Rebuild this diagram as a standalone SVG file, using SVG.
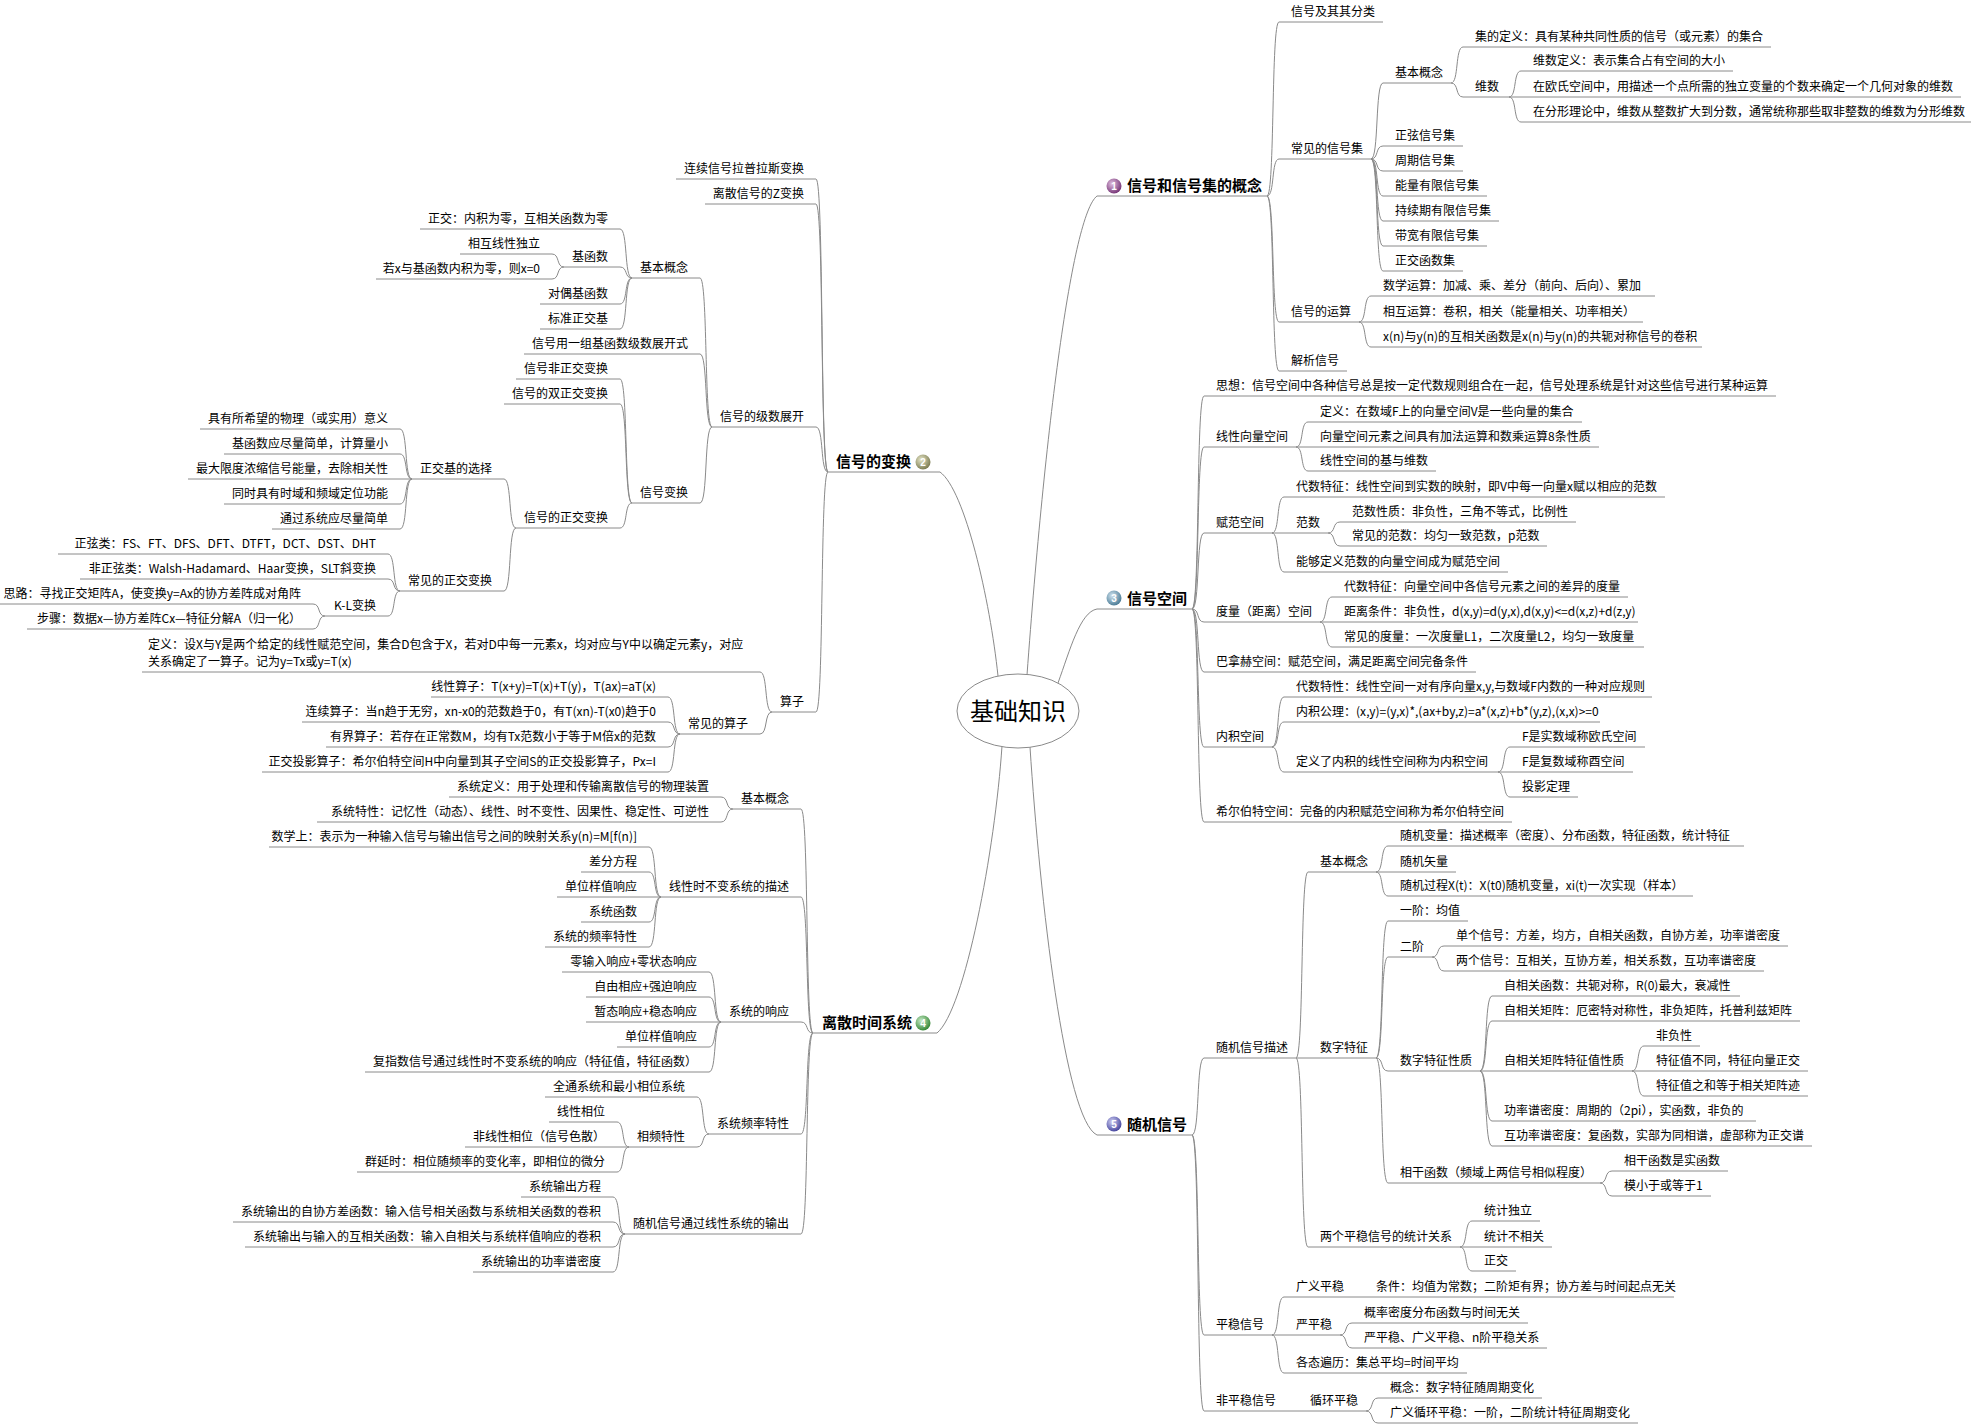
<svg xmlns="http://www.w3.org/2000/svg" width="1971" height="1424" viewBox="0 0 1971 1424">
<style>
.t{font-family:"Noto Sans CJK SC","Noto Sans",sans-serif;font-size:12px;fill:#000}
.e{text-anchor:end}
.b{font-size:15px;font-weight:bold}
.u{stroke:#8a8a8a;stroke-width:1;fill:none}
.n{font-family:"Liberation Sans",sans-serif;font-size:10px;font-weight:bold;fill:#fff;text-anchor:middle}
</style>
<defs>
<radialGradient id="g1" cx="38%" cy="35%" r="65%"><stop offset="0" stop-color="#e0bfe0"/><stop offset="1" stop-color="#7a3a7a"/></radialGradient>
<radialGradient id="g2" cx="38%" cy="35%" r="65%"><stop offset="0" stop-color="#e6e6c8"/><stop offset="1" stop-color="#7f7f55"/></radialGradient>
<radialGradient id="g3" cx="38%" cy="35%" r="65%"><stop offset="0" stop-color="#cfe2ee"/><stop offset="1" stop-color="#4f7f99"/></radialGradient>
<radialGradient id="g4" cx="38%" cy="35%" r="65%"><stop offset="0" stop-color="#c8ecc8"/><stop offset="1" stop-color="#3a8a3a"/></radialGradient>
<radialGradient id="g5" cx="38%" cy="35%" r="65%"><stop offset="0" stop-color="#d0d0f4"/><stop offset="1" stop-color="#4a4aa0"/></radialGradient>
</defs>
<rect width="1971" height="1424" fill="#fff"/>
<g id="connectors" class="u">
<path d="M1027 675C1045 430 1072 215 1097 196"/>
<path d="M1058 683C1070 650 1080 612 1097 609"/>
<path d="M998 676C990 600 965 490 940 472"/>
<path d="M1002 746C995 850 965 1010 937 1033"/>
<path d="M1030 747C1040 900 1065 1120 1097 1135"/>
<path d="M1267 196C1275 196 1271 22 1279 22"/>
<path d="M1267 196C1275 196 1271 159 1279 159"/>
<path d="M1267 196C1275 196 1271 322 1279 322"/>
<path d="M1267 196C1275 196 1271 371 1279 371"/>
<path d="M1371 159C1379 159 1375 83 1383 83"/>
<path d="M1371 159C1379 159 1375 146 1383 146"/>
<path d="M1371 159C1379 159 1375 171 1383 171"/>
<path d="M1371 159C1379 159 1375 196 1383 196"/>
<path d="M1371 159C1379 159 1375 221 1383 221"/>
<path d="M1371 159C1379 159 1375 246 1383 246"/>
<path d="M1371 159C1379 159 1375 271 1383 271"/>
<path d="M1451 83C1459 83 1455 47 1463 47"/>
<path d="M1451 83C1459 83 1455 97 1463 97"/>
<path d="M1509 97C1517 97 1513 71 1521 71"/>
<path d="M1509 97H1521"/>
<path d="M1509 97C1517 97 1513 122 1521 122"/>
<path d="M1359 322C1367 322 1363 296 1371 296"/>
<path d="M1359 322H1371"/>
<path d="M1359 322C1367 322 1363 347 1371 347"/>
<path d="M1192 609C1200 609 1196 396 1204 396"/>
<path d="M1192 609C1200 609 1196 447 1204 447"/>
<path d="M1192 609C1200 609 1196 533 1204 533"/>
<path d="M1192 609C1200 609 1196 622 1204 622"/>
<path d="M1192 609C1200 609 1196 672 1204 672"/>
<path d="M1192 609C1200 609 1196 747 1204 747"/>
<path d="M1192 609C1200 609 1196 822 1204 822"/>
<path d="M1296 447C1304 447 1300 422 1308 422"/>
<path d="M1296 447H1308"/>
<path d="M1296 447C1304 447 1300 471 1308 471"/>
<path d="M1272 533C1280 533 1276 497 1284 497"/>
<path d="M1272 533H1284"/>
<path d="M1272 533C1280 533 1276 572 1284 572"/>
<path d="M1328 533C1336 533 1332 522 1340 522"/>
<path d="M1328 533C1336 533 1332 546 1340 546"/>
<path d="M1320 622C1328 622 1324 597 1332 597"/>
<path d="M1320 622H1332"/>
<path d="M1320 622C1328 622 1324 647 1332 647"/>
<path d="M1272 747C1280 747 1276 697 1284 697"/>
<path d="M1272 747C1280 747 1276 722 1284 722"/>
<path d="M1272 747C1280 747 1276 772 1284 772"/>
<path d="M1498 772C1506 772 1502 747 1510 747"/>
<path d="M1498 772H1510"/>
<path d="M1498 772C1506 772 1502 797 1510 797"/>
<path d="M1192 1135C1200 1135 1196 1058 1204 1058"/>
<path d="M1192 1135C1200 1135 1196 1335 1204 1335"/>
<path d="M1192 1135C1200 1135 1196 1411 1204 1411"/>
<path d="M1296 1058C1304 1058 1300 872 1308 872"/>
<path d="M1296 1058H1308"/>
<path d="M1296 1058C1304 1058 1300 1247 1308 1247"/>
<path d="M1376 872C1384 872 1380 846 1388 846"/>
<path d="M1376 872H1388"/>
<path d="M1376 872C1384 872 1380 896 1388 896"/>
<path d="M1376 1058C1384 1058 1380 921 1388 921"/>
<path d="M1376 1058C1384 1058 1380 957 1388 957"/>
<path d="M1376 1058C1384 1058 1380 1071 1388 1071"/>
<path d="M1376 1058C1384 1058 1380 1183 1388 1183"/>
<path d="M1432 957C1440 957 1436 946 1444 946"/>
<path d="M1432 957C1440 957 1436 971 1444 971"/>
<path d="M1480 1071C1488 1071 1484 996 1492 996"/>
<path d="M1480 1071C1488 1071 1484 1021 1492 1021"/>
<path d="M1480 1071H1492"/>
<path d="M1480 1071C1488 1071 1484 1121 1492 1121"/>
<path d="M1480 1071C1488 1071 1484 1146 1492 1146"/>
<path d="M1632 1071C1640 1071 1636 1046 1644 1046"/>
<path d="M1632 1071H1644"/>
<path d="M1632 1071C1640 1071 1636 1096 1644 1096"/>
<path d="M1600 1183C1608 1183 1604 1171 1612 1171"/>
<path d="M1600 1183C1608 1183 1604 1196 1612 1196"/>
<path d="M1460 1247C1468 1247 1464 1221 1472 1221"/>
<path d="M1460 1247H1472"/>
<path d="M1460 1247C1468 1247 1464 1271 1472 1271"/>
<path d="M1272 1335C1280 1335 1276 1297 1284 1297"/>
<path d="M1272 1335H1284"/>
<path d="M1272 1335C1280 1335 1276 1373 1284 1373"/>
<path d="M1352 1297H1364"/>
<path d="M1340 1335C1348 1335 1344 1323 1352 1323"/>
<path d="M1340 1335C1348 1335 1344 1348 1352 1348"/>
<path d="M1286 1411H1298"/>
<path d="M1366 1411C1374 1411 1370 1398 1378 1398"/>
<path d="M1366 1411C1374 1411 1370 1423 1378 1423"/>
<path d="M828 472C820 472 824 179 816 179"/>
<path d="M828 472C820 472 824 204 816 204"/>
<path d="M828 472C820 472 824 427 816 427"/>
<path d="M828 472C820 472 824 712 816 712"/>
<path d="M712 427C704 427 708 278 700 278"/>
<path d="M712 427C704 427 708 354 700 354"/>
<path d="M712 427C704 427 708 503 700 503"/>
<path d="M632 278C624 278 628 229 620 229"/>
<path d="M632 278C624 278 628 267 620 267"/>
<path d="M632 278C624 278 628 304 620 304"/>
<path d="M632 278C624 278 628 329 620 329"/>
<path d="M564 267C556 267 560 254 552 254"/>
<path d="M564 267C556 267 560 279 552 279"/>
<path d="M632 503C624 503 628 379 620 379"/>
<path d="M632 503C624 503 628 404 620 404"/>
<path d="M632 503C624 503 628 528 620 528"/>
<path d="M516 528C508 528 512 479 504 479"/>
<path d="M516 528C508 528 512 591 504 591"/>
<path d="M412 479C404 479 408 429 400 429"/>
<path d="M412 479C404 479 408 454 400 454"/>
<path d="M412 479H400"/>
<path d="M412 479C404 479 408 504 400 504"/>
<path d="M412 479C404 479 408 529 400 529"/>
<path d="M400 591C392 591 396 554 388 554"/>
<path d="M400 591C392 591 396 579 388 579"/>
<path d="M400 591C392 591 396 616 388 616"/>
<path d="M325 616C317 616 321 604 313 604"/>
<path d="M325 616C317 616 321 629 313 629"/>
<path d="M772 712C764 712 768 672 760 672"/>
<path d="M772 712C764 712 768 734 760 734"/>
<path d="M680 734C672 734 676 697 668 697"/>
<path d="M680 734C672 734 676 722 668 722"/>
<path d="M680 734C672 734 676 747 668 747"/>
<path d="M680 734C672 734 676 772 668 772"/>
<path d="M813 1033C805 1033 809 809 801 809"/>
<path d="M813 1033C805 1033 809 897 801 897"/>
<path d="M813 1033C805 1033 809 1022 801 1022"/>
<path d="M813 1033C805 1033 809 1134 801 1134"/>
<path d="M813 1033C805 1033 809 1234 801 1234"/>
<path d="M733 809C725 809 729 797 721 797"/>
<path d="M733 809C725 809 729 822 721 822"/>
<path d="M661 897C653 897 657 847 649 847"/>
<path d="M661 897C653 897 657 872 649 872"/>
<path d="M661 897H649"/>
<path d="M661 897C653 897 657 922 649 922"/>
<path d="M661 897C653 897 657 947 649 947"/>
<path d="M721 1022C713 1022 717 972 709 972"/>
<path d="M721 1022C713 1022 717 997 709 997"/>
<path d="M721 1022H709"/>
<path d="M721 1022C713 1022 717 1047 709 1047"/>
<path d="M721 1022C713 1022 717 1072 709 1072"/>
<path d="M709 1134C701 1134 705 1097 697 1097"/>
<path d="M709 1134C701 1134 705 1147 697 1147"/>
<path d="M629 1147C621 1147 625 1122 617 1122"/>
<path d="M629 1147H617"/>
<path d="M629 1147C621 1147 625 1172 617 1172"/>
<path d="M625 1234C617 1234 621 1197 613 1197"/>
<path d="M625 1234C617 1234 621 1222 613 1222"/>
<path d="M625 1234C617 1234 621 1247 613 1247"/>
<path d="M625 1234C617 1234 621 1272 613 1272"/>
</g>
<g id="root"><ellipse cx="1018" cy="711" rx="61" ry="37" fill="#fff" stroke="#8a8a8a"/><text class="t" x="1018" y="720" style="font-size:24px;text-anchor:middle">基础知识</text></g>
<g id="b1"><path class="u" d="M1097 196H1267"/><circle cx="1114" cy="186" r="7.5" fill="url(#g1)"/><text class="n" x="1114" y="189.5">1</text><text class="t b" x="1127" y="191">信号和信号集的概念</text></g>
<g id="b2"><path class="u" d="M828 472H940"/><text class="t b" x="836" y="467">信号的变换</text><circle cx="923" cy="462" r="7.5" fill="url(#g2)"/><text class="n" x="923" y="465.5">2</text></g>
<g id="b3"><path class="u" d="M1097 609H1192"/><circle cx="1114" cy="598" r="7.5" fill="url(#g3)"/><text class="n" x="1114" y="601.5">3</text><text class="t b" x="1127" y="604">信号空间</text></g>
<g id="b4"><path class="u" d="M813 1033H937"/><text class="t b" x="822" y="1028">离散时间系统</text><circle cx="923" cy="1023" r="7.5" fill="url(#g4)"/><text class="n" x="923" y="1026.5">4</text></g>
<g id="b5"><path class="u" d="M1097 1135H1192"/><circle cx="1114" cy="1124" r="7.5" fill="url(#g5)"/><text class="n" x="1114" y="1127.5">5</text><text class="t b" x="1127" y="1130">随机信号</text></g>
<g id="r1a"><path class="u" d="M1279 22H1383"/><text class="t" x="1291" y="16">信号及其其分类</text></g>
<g id="r1b"><path class="u" d="M1279 159H1371"/><text class="t" x="1291" y="153">常见的信号集</text></g>
<g id="r1c"><path class="u" d="M1279 322H1359"/><text class="t" x="1291" y="316">信号的运算</text></g>
<g id="r1d"><path class="u" d="M1279 371H1347"/><text class="t" x="1291" y="365">解析信号</text></g>
<g id="r1b1"><path class="u" d="M1383 83H1451"/><text class="t" x="1395" y="77">基本概念</text></g>
<g id="r1b2"><path class="u" d="M1383 146H1463"/><text class="t" x="1395" y="140">正弦信号集</text></g>
<g id="r1b3"><path class="u" d="M1383 171H1463"/><text class="t" x="1395" y="165">周期信号集</text></g>
<g id="r1b4"><path class="u" d="M1383 196H1487"/><text class="t" x="1395" y="190">能量有限信号集</text></g>
<g id="r1b5"><path class="u" d="M1383 221H1499"/><text class="t" x="1395" y="215">持续期有限信号集</text></g>
<g id="r1b6"><path class="u" d="M1383 246H1487"/><text class="t" x="1395" y="240">带宽有限信号集</text></g>
<g id="r1b7"><path class="u" d="M1383 271H1463"/><text class="t" x="1395" y="265">正交函数集</text></g>
<g id="r1b1a"><path class="u" d="M1463 47H1771"/><text class="t" x="1475" y="41">集的定义：具有某种共同性质的信号（或元素）的集合</text></g>
<g id="r1b1b"><path class="u" d="M1463 97H1509"/><text class="t" x="1475" y="91">维数</text></g>
<g id="r1b1b1"><path class="u" d="M1521 71H1733"/><text class="t" x="1533" y="65">维数定义：表示集合占有空间的大小</text></g>
<g id="r1b1b2"><path class="u" d="M1521 97H1961"/><text class="t" x="1533" y="91">在欧氏空间中，用描述一个点所需的独立变量的个数来确定一个几何对象的维数</text></g>
<g id="r1b1b3"><path class="u" d="M1521 122H1971"/><text class="t" x="1533" y="116">在分形理论中，维数从整数扩大到分数，通常统称那些取非整数的维数为分形维数</text></g>
<g id="r1c1"><path class="u" d="M1371 296H1655"/><text class="t" x="1383" y="290">数学运算：加减、乘、差分（前向、后向）、累加</text></g>
<g id="r1c2"><path class="u" d="M1371 322H1643"/><text class="t" x="1383" y="316">相互运算：卷积，相关（能量相关、功率相关）</text></g>
<g id="r1c3"><path class="u" d="M1371 347H1702"/><text class="t" x="1383" y="341">x(n)与y(n)的互相关函数是x(n)与y(n)的共轭对称信号的卷积</text></g>
<g id="r3a"><path class="u" d="M1204 396H1776"/><text class="t" x="1216" y="390">思想：信号空间中各种信号总是按一定代数规则组合在一起，信号处理系统是针对这些信号进行某种运算</text></g>
<g id="r3b"><path class="u" d="M1204 447H1296"/><text class="t" x="1216" y="441">线性向量空间</text></g>
<g id="r3c"><path class="u" d="M1204 533H1272"/><text class="t" x="1216" y="527">赋范空间</text></g>
<g id="r3d"><path class="u" d="M1204 622H1320"/><text class="t" x="1216" y="616">度量（距离）空间</text></g>
<g id="r3e"><path class="u" d="M1204 672H1476"/><text class="t" x="1216" y="666">巴拿赫空间：赋范空间，满足距离空间完备条件</text></g>
<g id="r3f"><path class="u" d="M1204 747H1272"/><text class="t" x="1216" y="741">内积空间</text></g>
<g id="r3g"><path class="u" d="M1204 822H1512"/><text class="t" x="1216" y="816">希尔伯特空间：完备的内积赋范空间称为希尔伯特空间</text></g>
<g id="r3b1"><path class="u" d="M1308 422H1582"/><text class="t" x="1320" y="416">定义：在数域F上的向量空间V是一些向量的集合</text></g>
<g id="r3b2"><path class="u" d="M1308 447H1599"/><text class="t" x="1320" y="441">向量空间元素之间具有加法运算和数乘运算8条性质</text></g>
<g id="r3b3"><path class="u" d="M1308 471H1436"/><text class="t" x="1320" y="465">线性空间的基与维数</text></g>
<g id="r3c1"><path class="u" d="M1284 497H1665"/><text class="t" x="1296" y="491">代数特征：线性空间到实数的映射，即V中每一向量x赋以相应的范数</text></g>
<g id="r3c2"><path class="u" d="M1284 533H1328"/><text class="t" x="1296" y="527">范数</text></g>
<g id="r3c3"><path class="u" d="M1284 572H1508"/><text class="t" x="1296" y="566">能够定义范数的向量空间成为赋范空间</text></g>
<g id="r3c2a"><path class="u" d="M1340 522H1576"/><text class="t" x="1352" y="516">范数性质：非负性，三角不等式，比例性</text></g>
<g id="r3c2b"><path class="u" d="M1340 546H1547"/><text class="t" x="1352" y="540">常见的范数：均匀一致范数，p范数</text></g>
<g id="r3d1"><path class="u" d="M1332 597H1628"/><text class="t" x="1344" y="591">代数特征：向量空间中各信号元素之间的差异的度量</text></g>
<g id="r3d2"><path class="u" d="M1332 622H1638"/><text class="t" x="1344" y="616">距离条件：非负性，d(x,y)=d(y,x),d(x,y)&lt;=d(x,z)+d(z,y)</text></g>
<g id="r3d3"><path class="u" d="M1332 647H1644"/><text class="t" x="1344" y="641">常见的度量：一次度量L1，二次度量L2，均匀一致度量</text></g>
<g id="r3f1"><path class="u" d="M1284 697H1652"/><text class="t" x="1296" y="691">代数特性：线性空间一对有序向量x,y,与数域F内数的一种对应规则</text></g>
<g id="r3f2"><path class="u" d="M1284 722H1600"/><text class="t" x="1296" y="716">内积公理：(x,y)=(y,x)*,(ax+by,z)=a*(x,z)+b*(y,z),(x,x)&gt;=0</text></g>
<g id="r3f3"><path class="u" d="M1284 772H1498"/><text class="t" x="1296" y="766">定义了内积的线性空间称为内积空间</text></g>
<g id="r3f3a"><path class="u" d="M1510 747H1645"/><text class="t" x="1522" y="741">F是实数域称欧氏空间</text></g>
<g id="r3f3b"><path class="u" d="M1510 772H1633"/><text class="t" x="1522" y="766">F是复数域称酉空间</text></g>
<g id="r3f3c"><path class="u" d="M1510 797H1578"/><text class="t" x="1522" y="791">投影定理</text></g>
<g id="r5a"><path class="u" d="M1204 1058H1296"/><text class="t" x="1216" y="1052">随机信号描述</text></g>
<g id="r5b"><path class="u" d="M1204 1335H1272"/><text class="t" x="1216" y="1329">平稳信号</text></g>
<g id="r5c"><path class="u" d="M1204 1411H1286"/><text class="t" x="1216" y="1405">非平稳信号</text></g>
<g id="r5a1"><path class="u" d="M1308 872H1376"/><text class="t" x="1320" y="866">基本概念</text></g>
<g id="r5a2"><path class="u" d="M1308 1058H1376"/><text class="t" x="1320" y="1052">数字特征</text></g>
<g id="r5a3"><path class="u" d="M1308 1247H1460"/><text class="t" x="1320" y="1241">两个平稳信号的统计关系</text></g>
<g id="r5a1a"><path class="u" d="M1388 846H1744"/><text class="t" x="1400" y="840">随机变量：描述概率（密度）、分布函数，特征函数，统计特征</text></g>
<g id="r5a1b"><path class="u" d="M1388 872H1456"/><text class="t" x="1400" y="866">随机矢量</text></g>
<g id="r5a1c"><path class="u" d="M1388 896H1693"/><text class="t" x="1400" y="890">随机过程X(t)：X(t0)随机变量，xi(t)一次实现（样本）</text></g>
<g id="r5a2a"><path class="u" d="M1388 921H1468"/><text class="t" x="1400" y="915">一阶：均值</text></g>
<g id="r5a2b"><path class="u" d="M1388 957H1432"/><text class="t" x="1400" y="951">二阶</text></g>
<g id="r5a2c"><path class="u" d="M1388 1071H1480"/><text class="t" x="1400" y="1065">数字特征性质</text></g>
<g id="r5a2d"><path class="u" d="M1388 1183H1600"/><text class="t" x="1400" y="1177">相干函数（频域上两信号相似程度）</text></g>
<g id="r5a2b1"><path class="u" d="M1444 946H1788"/><text class="t" x="1456" y="940">单个信号：方差，均方，自相关函数，自协方差，功率谱密度</text></g>
<g id="r5a2b2"><path class="u" d="M1444 971H1764"/><text class="t" x="1456" y="965">两个信号：互相关，互协方差，相关系数，互功率谱密度</text></g>
<g id="r5a2c1"><path class="u" d="M1492 996H1740"/><text class="t" x="1504" y="990">自相关函数：共轭对称，R(0)最大，衰减性</text></g>
<g id="r5a2c2"><path class="u" d="M1492 1021H1800"/><text class="t" x="1504" y="1015">自相关矩阵：厄密特对称性，非负矩阵，托普利兹矩阵</text></g>
<g id="r5a2c3"><path class="u" d="M1492 1071H1632"/><text class="t" x="1504" y="1065">自相关矩阵特征值性质</text></g>
<g id="r5a2c4"><path class="u" d="M1492 1121H1756"/><text class="t" x="1504" y="1115">功率谱密度：周期的（2pi），实函数，非负的</text></g>
<g id="r5a2c5"><path class="u" d="M1492 1146H1812"/><text class="t" x="1504" y="1140">互功率谱密度：复函数，实部为同相谱，虚部称为正交谱</text></g>
<g id="r5a2c3a"><path class="u" d="M1644 1046H1700"/><text class="t" x="1656" y="1040">非负性</text></g>
<g id="r5a2c3b"><path class="u" d="M1644 1071H1808"/><text class="t" x="1656" y="1065">特征值不同，特征向量正交</text></g>
<g id="r5a2c3c"><path class="u" d="M1644 1096H1808"/><text class="t" x="1656" y="1090">特征值之和等于相关矩阵迹</text></g>
<g id="r5a2d1"><path class="u" d="M1612 1171H1728"/><text class="t" x="1624" y="1165">相干函数是实函数</text></g>
<g id="r5a2d2"><path class="u" d="M1612 1196H1711"/><text class="t" x="1624" y="1190">模小于或等于1</text></g>
<g id="r5a3a"><path class="u" d="M1472 1221H1540"/><text class="t" x="1484" y="1215">统计独立</text></g>
<g id="r5a3b"><path class="u" d="M1472 1247H1552"/><text class="t" x="1484" y="1241">统计不相关</text></g>
<g id="r5a3c"><path class="u" d="M1472 1271H1516"/><text class="t" x="1484" y="1265">正交</text></g>
<g id="r5b1"><path class="u" d="M1284 1297H1352"/><text class="t" x="1296" y="1291">广义平稳</text></g>
<g id="r5b2"><path class="u" d="M1284 1335H1340"/><text class="t" x="1296" y="1329">严平稳</text></g>
<g id="r5b3"><path class="u" d="M1284 1373H1467"/><text class="t" x="1296" y="1367">各态遍历：集总平均=时间平均</text></g>
<g id="r5b1a"><path class="u" d="M1364 1297H1674"/><text class="t" x="1376" y="1291">条件：均值为常数；二阶矩有界；协方差与时间起点无关</text></g>
<g id="r5b2a"><path class="u" d="M1352 1323H1528"/><text class="t" x="1364" y="1317">概率密度分布函数与时间无关</text></g>
<g id="r5b2b"><path class="u" d="M1352 1348H1547"/><text class="t" x="1364" y="1342">严平稳、广义平稳、n阶平稳关系</text></g>
<g id="r5c1"><path class="u" d="M1298 1411H1366"/><text class="t" x="1310" y="1405">循环平稳</text></g>
<g id="r5c1a"><path class="u" d="M1378 1398H1542"/><text class="t" x="1390" y="1392">概念：数字特征随周期变化</text></g>
<g id="r5c1b"><path class="u" d="M1378 1423H1638"/><text class="t" x="1390" y="1417">广义循环平稳：一阶，二阶统计特征周期变化</text></g>
<g id="l2a"><path class="u" d="M676 179H816"/><text class="t e" x="804" y="173">连续信号拉普拉斯变换</text></g>
<g id="l2b"><path class="u" d="M705 204H816"/><text class="t e" x="804" y="198">离散信号的Z变换</text></g>
<g id="l2c"><path class="u" d="M712 427H816"/><text class="t e" x="804" y="421">信号的级数展开</text></g>
<g id="l2d"><path class="u" d="M772 712H816"/><text class="t e" x="804" y="706">算子</text></g>
<g id="l2c1"><path class="u" d="M632 278H700"/><text class="t e" x="688" y="272">基本概念</text></g>
<g id="l2c2"><path class="u" d="M524 354H700"/><text class="t e" x="688" y="348">信号用一组基函数级数展开式</text></g>
<g id="l2c3"><path class="u" d="M632 503H700"/><text class="t e" x="688" y="497">信号变换</text></g>
<g id="l2c1a"><path class="u" d="M420 229H620"/><text class="t e" x="608" y="223">正交：内积为零，互相关函数为零</text></g>
<g id="l2c1b"><path class="u" d="M564 267H620"/><text class="t e" x="608" y="261">基函数</text></g>
<g id="l2c1c"><path class="u" d="M540 304H620"/><text class="t e" x="608" y="298">对偶基函数</text></g>
<g id="l2c1d"><path class="u" d="M540 329H620"/><text class="t e" x="608" y="323">标准正交基</text></g>
<g id="l2c1b1"><path class="u" d="M460 254H552"/><text class="t e" x="540" y="248">相互线性独立</text></g>
<g id="l2c1b2"><path class="u" d="M376 279H552"/><text class="t e" x="540" y="273">若x与基函数内积为零，则x=0</text></g>
<g id="l2c3a"><path class="u" d="M516 379H620"/><text class="t e" x="608" y="373">信号非正交变换</text></g>
<g id="l2c3b"><path class="u" d="M504 404H620"/><text class="t e" x="608" y="398">信号的双正交变换</text></g>
<g id="l2c3c"><path class="u" d="M516 528H620"/><text class="t e" x="608" y="522">信号的正交变换</text></g>
<g id="l2c3c1"><path class="u" d="M412 479H504"/><text class="t e" x="492" y="473">正交基的选择</text></g>
<g id="l2c3c2"><path class="u" d="M400 591H504"/><text class="t e" x="492" y="585">常见的正交变换</text></g>
<g id="l2c3c1a"><path class="u" d="M200 429H400"/><text class="t e" x="388" y="423">具有所希望的物理（或实用）意义</text></g>
<g id="l2c3c1b"><path class="u" d="M224 454H400"/><text class="t e" x="388" y="448">基函数应尽量简单，计算量小</text></g>
<g id="l2c3c1c"><path class="u" d="M188 479H400"/><text class="t e" x="388" y="473">最大限度浓缩信号能量，去除相关性</text></g>
<g id="l2c3c1d"><path class="u" d="M224 504H400"/><text class="t e" x="388" y="498">同时具有时域和频域定位功能</text></g>
<g id="l2c3c1e"><path class="u" d="M272 529H400"/><text class="t e" x="388" y="523">通过系统应尽量简单</text></g>
<g id="l2c3c2a"><path class="u" d="M58 554H388"/><text class="t e" x="376" y="548">正弦类：FS、FT、DFS、DFT、DTFT，DCT、DST、DHT</text></g>
<g id="l2c3c2b"><path class="u" d="M80 579H388"/><text class="t e" x="376" y="573">非正弦类：Walsh-Hadamard、Haar变换，SLT斜变换</text></g>
<g id="l2c3c2c"><path class="u" d="M325 616H388"/><text class="t e" x="376" y="610">K-L变换</text></g>
<g id="l2c3c2c1"><path class="u" d="M0 604H313"/><text class="t e" x="301" y="598">思路：寻找正交矩阵A，使变换y=Ax的协方差阵成对角阵</text></g>
<g id="l2c3c2c2"><path class="u" d="M27 629H313"/><text class="t e" x="301" y="623">步骤：数据x—协方差阵Cx—特征分解A（归一化）</text></g>
<g id="l2d1"><path class="u" d="M142 672H760"/><text class="t" x="148" y="649">定义：设X与Y是两个给定的线性赋范空间，集合D包含于X，若对D中每一元素x，均对应与Y中以确定元素y，对应</text><text class="t" x="148" y="666">关系确定了一算子。记为y=Tx或y=T(x)</text></g>
<g id="l2d2"><path class="u" d="M680 734H760"/><text class="t e" x="748" y="728">常见的算子</text></g>
<g id="l2d2a"><path class="u" d="M431 697H668"/><text class="t e" x="656" y="691">线性算子：T(x+y)=T(x)+T(y)，T(ax)=aT(x)</text></g>
<g id="l2d2b"><path class="u" d="M302 722H668"/><text class="t e" x="656" y="716">连续算子：当n趋于无穷，xn-x0的范数趋于0，有T(xn)-T(x0)趋于0</text></g>
<g id="l2d2c"><path class="u" d="M326 747H668"/><text class="t e" x="656" y="741">有界算子：若存在正常数M，均有Tx范数小于等于M倍x的范数</text></g>
<g id="l2d2d"><path class="u" d="M262 772H668"/><text class="t e" x="656" y="766">正交投影算子：希尔伯特空间H中向量到其子空间S的正交投影算子，Px=I</text></g>
<g id="l4a"><path class="u" d="M733 809H801"/><text class="t e" x="789" y="803">基本概念</text></g>
<g id="l4b"><path class="u" d="M661 897H801"/><text class="t e" x="789" y="891">线性时不变系统的描述</text></g>
<g id="l4c"><path class="u" d="M721 1022H801"/><text class="t e" x="789" y="1016">系统的响应</text></g>
<g id="l4d"><path class="u" d="M709 1134H801"/><text class="t e" x="789" y="1128">系统频率特性</text></g>
<g id="l4e"><path class="u" d="M625 1234H801"/><text class="t e" x="789" y="1228">随机信号通过线性系统的输出</text></g>
<g id="l4a1"><path class="u" d="M449 797H721"/><text class="t e" x="709" y="791">系统定义：用于处理和传输离散信号的物理装置</text></g>
<g id="l4a2"><path class="u" d="M317 822H721"/><text class="t e" x="709" y="816">系统特性：记忆性（动态）、线性、时不变性、因果性、稳定性、可逆性</text></g>
<g id="l4b1"><path class="u" d="M269 847H649"/><text class="t e" x="637" y="841">数学上：表示为一种输入信号与输出信号之间的映射关系y(n)=M[f(n)]</text></g>
<g id="l4b2"><path class="u" d="M581 872H649"/><text class="t e" x="637" y="866">差分方程</text></g>
<g id="l4b3"><path class="u" d="M557 897H649"/><text class="t e" x="637" y="891">单位样值响应</text></g>
<g id="l4b4"><path class="u" d="M581 922H649"/><text class="t e" x="637" y="916">系统函数</text></g>
<g id="l4b5"><path class="u" d="M545 947H649"/><text class="t e" x="637" y="941">系统的频率特性</text></g>
<g id="l4c1"><path class="u" d="M562 972H709"/><text class="t e" x="697" y="966">零输入响应+零状态响应</text></g>
<g id="l4c2"><path class="u" d="M586 997H709"/><text class="t e" x="697" y="991">自由相应+强迫响应</text></g>
<g id="l4c3"><path class="u" d="M586 1022H709"/><text class="t e" x="697" y="1016">暂态响应+稳态响应</text></g>
<g id="l4c4"><path class="u" d="M617 1047H709"/><text class="t e" x="697" y="1041">单位样值响应</text></g>
<g id="l4c5"><path class="u" d="M365 1072H709"/><text class="t e" x="697" y="1066">复指数信号通过线性时不变系统的响应（特征值，特征函数）</text></g>
<g id="l4d1"><path class="u" d="M545 1097H697"/><text class="t e" x="685" y="1091">全通系统和最小相位系统</text></g>
<g id="l4d2"><path class="u" d="M629 1147H697"/><text class="t e" x="685" y="1141">相频特性</text></g>
<g id="l4d2a"><path class="u" d="M549 1122H617"/><text class="t e" x="605" y="1116">线性相位</text></g>
<g id="l4d2b"><path class="u" d="M465 1147H617"/><text class="t e" x="605" y="1141">非线性相位（信号色散）</text></g>
<g id="l4d2c"><path class="u" d="M357 1172H617"/><text class="t e" x="605" y="1166">群延时：相位随频率的变化率，即相位的微分</text></g>
<g id="l4e1"><path class="u" d="M521 1197H613"/><text class="t e" x="601" y="1191">系统输出方程</text></g>
<g id="l4e2"><path class="u" d="M233 1222H613"/><text class="t e" x="601" y="1216">系统输出的自协方差函数：输入信号相关函数与系统相关函数的卷积</text></g>
<g id="l4e3"><path class="u" d="M245 1247H613"/><text class="t e" x="601" y="1241">系统输出与输入的互相关函数：输入自相关与系统样值响应的卷积</text></g>
<g id="l4e4"><path class="u" d="M473 1272H613"/><text class="t e" x="601" y="1266">系统输出的功率谱密度</text></g>
</svg>
